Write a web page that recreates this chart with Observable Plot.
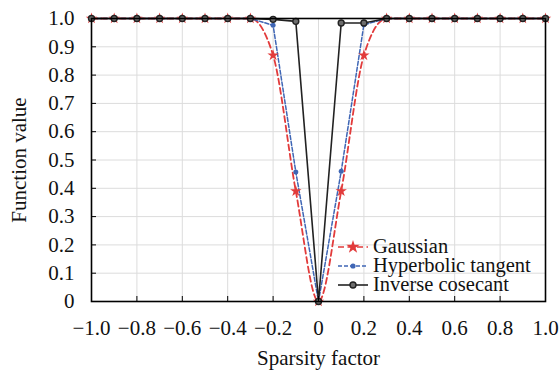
<!DOCTYPE html>
<html>
<head>
<meta charset="utf-8">
<script src="https://cdn.jsdelivr.net/npm/d3@7"></script>
<script src="https://cdn.jsdelivr.net/npm/@observablehq/plot@0.6"></script>
<style>
  html, body { margin: 0; padding: 0; background: #fff; }
  #wrap { position: relative; width: 559px; height: 371px; font-family: "Liberation Serif", "Times New Roman", serif; }
  #legend { position: absolute; left: 337px; top: 237px; font-size: 20.5px; line-height: 19px; color: #111; }
  #legend .row { display: flex; align-items: center; height: 19px; white-space: nowrap; }
  #legend .row span { display: block; height: 19px; line-height: 19px; }
  #legend svg { margin-right: 4px; }
</style>
</head>
<body>
<div id="wrap"><div id="chart"></div><div id="legend"></div></div>
<script>
const sparsity = [-1.0,-0.9,-0.8,-0.7,-0.6,-0.5,-0.4,-0.3,-0.2,-0.1,0,0.1,0.2,0.3,0.4,0.5,0.6,0.7,0.8,0.9,1.0];
const gaussian = [1,1,1,1,1,1,1,1,0.87,0.39,0,0.39,0.87,1,1,1,1,1,1,1,1];
const hyperbolicTangent = [1,1,1,1,1,1,1,1,0.976,0.458,0,0.46,0.978,1,1,1,1,1,1,1,1];
const inverseCosecant = [1,1,1,1,1,1,1,1,0.997,0.99,0,0.984,0.984,1,1,1,1,1,1,1,1];
const seriesNames = ["Gaussian", "Hyperbolic tangent", "Inverse cosecant"];
const xTicks = [-1.0,-0.8,-0.6,-0.4,-0.2,0,0.2,0.4,0.6,0.8,1.0];
const yTicks = [0,0.1,0.2,0.3,0.4,0.5,0.6,0.7,0.8,0.9,1.0];

const colors = {"Gaussian": "#e23b3b", "Hyperbolic tangent": "#3f66b5", "Inverse cosecant": "#222222"};
const toRows = (vals, name) => sparsity.map((x, i) => ({x, y: vals[i], name}));
const gRows = toRows(gaussian, seriesNames[0]);
const hRows = toRows(hyperbolicTangent, seriesNames[1]);
const iRows = toRows(inverseCosecant, seriesNames[2]);

const fmtX = d => d === 0 ? "0" : d3.format(".1f")(d);
const fmtY = d => d === 0 ? "0" : d3.format(".1f")(d);

const chart = Plot.plot({
  width: 559, height: 371,
  marginLeft: 91, marginRight: 14, marginTop: 18, marginBottom: 70,
  style: {fontFamily: '"Liberation Serif", "Times New Roman", serif', fontSize: "21px", color: "#111", background: "#fff"},
  x: {domain: [-1, 1]},
  y: {domain: [0, 1]},
  marks: [
    Plot.gridX(xTicks, {stroke: "#dcdcdc", strokeOpacity: 1, strokeWidth: 1}),
    Plot.gridY(yTicks, {stroke: "#dcdcdc", strokeOpacity: 1, strokeWidth: 1}),
    Plot.line(gRows, {x: "x", y: "y", stroke: colors["Gaussian"], strokeWidth: 1.8, strokeDasharray: "6,3.5", curve: "monotone-x"}),
    Plot.line(hRows, {x: "x", y: "y", stroke: colors["Hyperbolic tangent"], strokeWidth: 1.5, strokeDasharray: "4,2"}),
    Plot.line(iRows, {x: "x", y: "y", stroke: colors["Inverse cosecant"], strokeWidth: 1.6}),
    Plot.dot(gRows, {x: "x", y: "y", symbol: "star", r: 3.6, fill: colors["Gaussian"], stroke: "none"}),
    Plot.dot(hRows, {x: "x", y: "y", symbol: "circle", r: 2.5, fill: colors["Hyperbolic tangent"], stroke: "none"}),
    Plot.dot(iRows, {x: "x", y: "y", symbol: "circle", r: 3, fill: "#6d6d6d", stroke: "#222", strokeWidth: 1.4}),
    Plot.frame({stroke: "#000", strokeWidth: 1.6}),
    Plot.axisX(xTicks, {tickSize: -5, tickPadding: 24, tickFormat: fmtX, fontSize: 21, label: "Sparsity factor", labelAnchor: "center", labelOffset: 63, labelArrow: "none", stroke: "#000"}),
    Plot.axisY(yTicks, {tickSize: -5, tickPadding: 22, tickFormat: fmtY, fontSize: 21, label: "Function value", labelAnchor: "center", labelOffset: 80, labelArrow: "none", stroke: "#000"})
  ]
});
document.getElementById("chart").appendChild(chart);

const legendStyles = [
  {name: seriesNames[0], color: colors["Gaussian"], dash: "6,3.5", sym: "star"},
  {name: seriesNames[1], color: colors["Hyperbolic tangent"], dash: "4,2", sym: "dot"},
  {name: seriesNames[2], color: colors["Inverse cosecant"], dash: null, sym: "ring"}
];
const leg = document.getElementById("legend");
for (const s of legendStyles) {
  const row = document.createElement("div");
  row.className = "row";
  let marker = "";
  if (s.sym === "star") {
    const p = d3.symbol(d3.symbolStar, Math.PI * 4.2 * 4.2)();
    marker = `<path transform="translate(16,8)" d="${p}" fill="${s.color}"/>`;
  } else if (s.sym === "dot") {
    marker = `<circle cx="16" cy="8" r="2.6" fill="${s.color}"/>`;
  } else {
    marker = `<circle cx="16" cy="8" r="3" fill="#6d6d6d" stroke="#222" stroke-width="1.4"/>`;
  }
  row.innerHTML = `<svg width="32" height="16"><line x1="1" x2="31" y1="8" y2="8" stroke="${s.color}" stroke-width="1.6" ${s.dash ? `stroke-dasharray="${s.dash}"` : ""}/>${marker}</svg><span>${s.name}</span>`;
  leg.appendChild(row);
}
</script>
</body>
</html>
